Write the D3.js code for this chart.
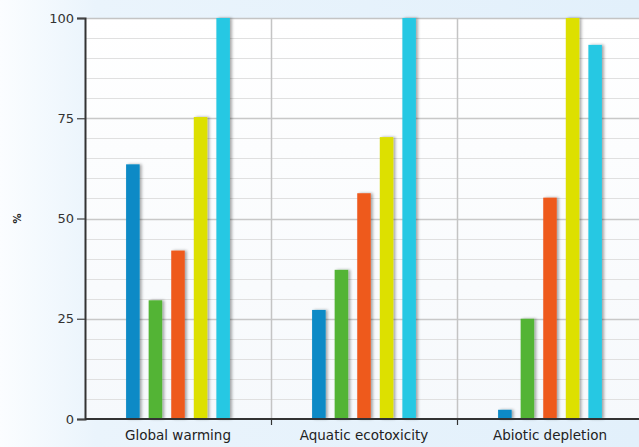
<!DOCTYPE html>
<html><head><meta charset="utf-8">
<script src="https://cdn.jsdelivr.net/npm/d3@7"></script>
<style>body{margin:0;background:#fff}svg{display:block}</style>
</head><body>
<script>
const categories = ["Global warming", "Aquatic ecotoxicity", "Abiotic depletion"];
const seriesNames = ["S1", "S2", "S3", "S4", "S5"];
const seriesColors = ["#0a8ac6", "#52b435", "#ee5a1e", "#dde000", "#26c8e3"];
const values = [
  [63.5, 27.2, 2.3],
  [29.6, 37.2, 25.0],
  [42.0, 56.3, 55.2],
  [75.3, 70.3, 100],
  [100, 100, 93.3]
];
const yTicks = [0, 25, 50, 75, 100];
const yLabel = "%";

const W = 639, H = 447;
const m = {l: 85, r: -4, t: 18, b: 28};
const svg = d3.select("body").append("svg").attr("width", W).attr("height", H);
const defs = svg.append("defs");
const bg = defs.append("linearGradient").attr("id", "bg").attr("x1", 0).attr("x2", 1).attr("y1", 0).attr("y2", 0);
bg.append("stop").attr("offset", 0).attr("stop-color", "#fbfdff");
bg.append("stop").attr("offset", 0.15).attr("stop-color", "#eaf4fc");
bg.append("stop").attr("offset", 1).attr("stop-color", "#e2f0fb");
const pbg = defs.append("linearGradient").attr("id", "pbg").attr("x1", 0).attr("x2", 0).attr("y1", 0).attr("y2", 1);
pbg.append("stop").attr("offset", 0).attr("stop-color", "#ffffff");
pbg.append("stop").attr("offset", 1).attr("stop-color", "#f6f9fc");
const sh = defs.append("filter").attr("id", "sh").attr("x", "-50%").attr("y", "-5%").attr("width", "200%").attr("height", "110%");
sh.append("feGaussianBlur").attr("in", "SourceAlpha").attr("stdDeviation", 1.6).attr("result", "b");
sh.append("feOffset").attr("in", "b").attr("dx", 2).attr("dy", 0).attr("result", "o");
sh.append("feComponentTransfer").attr("in", "o").attr("result", "o2").append("feFuncA").attr("type", "linear").attr("slope", 0.35);
const mg = sh.append("feMerge");
mg.append("feMergeNode").attr("in", "o2");
mg.append("feMergeNode").attr("in", "SourceGraphic");

svg.append("rect").attr("width", W).attr("height", H).attr("fill", "url(#bg)");
const x0 = m.l, x1 = W - m.r, y0 = H - m.b, y1 = m.t;
svg.append("rect").attr("x", x0).attr("y", y1).attr("width", x1 - x0).attr("height", y0 - y1).attr("fill", "url(#pbg)");

const x = d3.scaleBand().domain(categories).range([x0, x1]).paddingInner(0).paddingOuter(0);
const y = d3.scaleLinear().domain([0, 100]).range([y0, y1]);
const xs = d3.scaleBand().domain(seriesNames).range([0, x.bandwidth()]).paddingInner(0.4).paddingOuter(1.82);

// gridlines
const g = svg.append("g");
d3.range(5, 100, 5).forEach(v => {
  g.append("line").attr("x1", x0).attr("x2", x1).attr("y1", Math.round(y(v)) + 0.5).attr("y2", Math.round(y(v)) + 0.5)
    .attr("stroke", v % 25 === 0 ? "#c8c8c8" : "#e0e0e0").attr("stroke-width", v % 25 === 0 ? 1.6 : 1.2);
});
g.append("line").attr("x1", x0).attr("x2", x1).attr("y1", y1 + 0.5).attr("y2", y1 + 0.5).attr("stroke", "#c4c4c4").attr("stroke-width", 1.5);
categories.slice(1).forEach(c => {
  g.append("line").attr("x1", x(c) + 0.5).attr("x2", x(c) + 0.5).attr("y1", y1).attr("y2", y0).attr("stroke", "#c4c4c4").attr("stroke-width", 1.5);
});

// bars
const bars = svg.append("g").attr("filter", "url(#sh)");
seriesNames.forEach((s, i) => {
  categories.forEach((c, j) => {
    const v = values[i][j];
    bars.append("rect").attr("x", x(c) + xs(s)).attr("width", xs.bandwidth())
      .attr("y", y(v)).attr("height", y0 - y(v)).attr("fill", seriesColors[i]);
  });
});

// axes
const ya = svg.append("g").attr("transform", `translate(${x0},0)`)
  .call(d3.axisLeft(y).tickValues(yTicks).tickSize(8).tickPadding(3));
ya.select(".domain").attr("stroke", "#333").attr("stroke-width", 2);
ya.selectAll(".tick line").attr("stroke", "#444").attr("stroke-width", 1.2);
ya.selectAll("text").attr("font-family", "DejaVu Sans, sans-serif").attr("font-size", 13).attr("fill", "#333");

const xa = svg.append("g").attr("transform", `translate(0,${y0})`);
xa.append("line").attr("x1", x0).attr("x2", x1).attr("y1", 0).attr("y2", 0).attr("stroke", "#333").attr("stroke-width", 2);
categories.slice(1).forEach(c => {
  xa.append("line").attr("x1", x(c) + 0.5).attr("x2", x(c) + 0.5).attr("y1", 0).attr("y2", 6).attr("stroke", "#333").attr("stroke-width", 1.2);
});
categories.forEach(c => {
  xa.append("text").attr("x", x(c) + x.bandwidth() / 2).attr("y", 21).attr("text-anchor", "middle")
    .attr("font-family", "DejaVu Sans, sans-serif").attr("font-size", 13.5).attr("fill", "#222").text(c);
});

svg.append("text").attr("transform", `translate(21,${y(50)}) rotate(-90)`).attr("text-anchor", "middle")
  .attr("font-family", "DejaVu Sans, sans-serif").attr("font-weight", "bold").attr("font-size", 10).attr("fill", "#222").text(yLabel);
</script>
</body></html>
